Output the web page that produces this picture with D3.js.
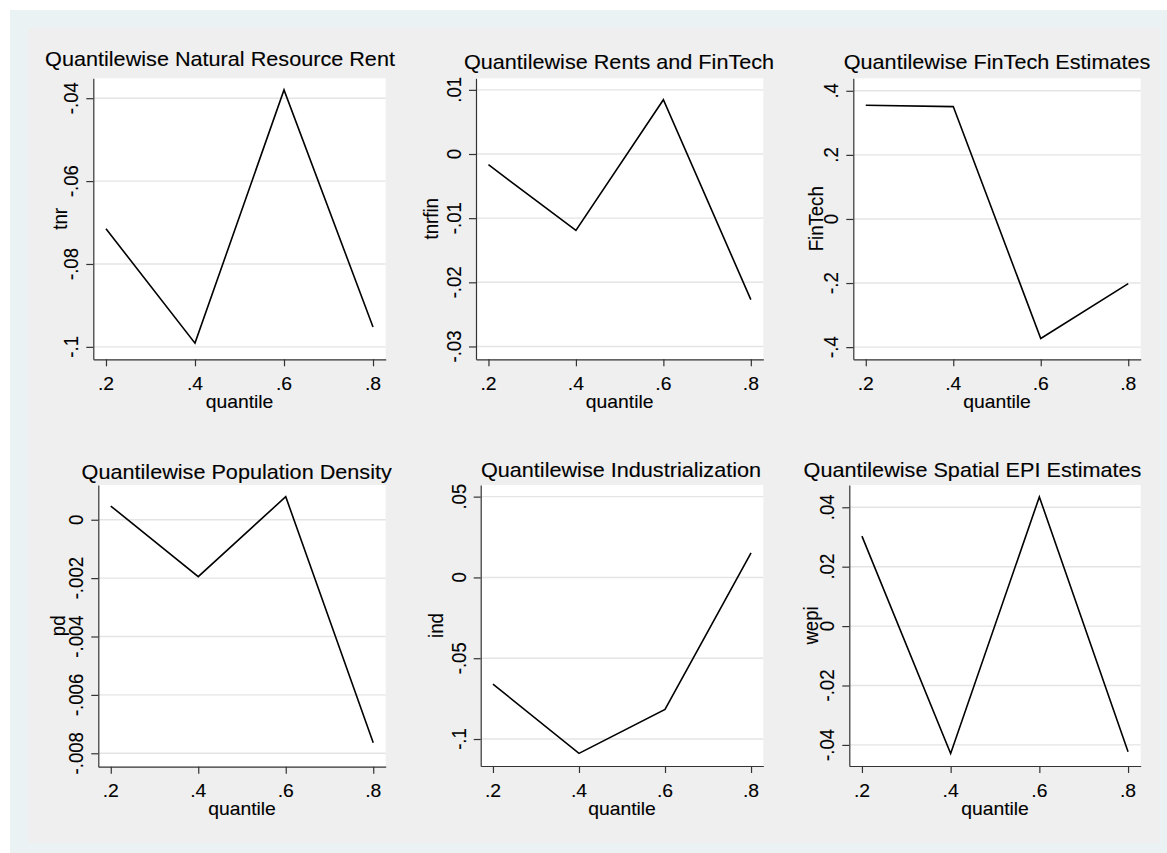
<!DOCTYPE html>
<html lang="en">
<head>
<meta charset="utf-8" />
<title>Quantilewise estimates</title>
<script src="https://d3js.org/d3.v7.min.js"></script>
<style>
  body { margin: 0; background: #fff; }
  svg { display: block; font-family: "Liberation Sans", Arial, sans-serif; }
  text { fill: #000; stroke: #000; stroke-width: 0.12px; }
</style>
</head>
<body>
<svg id="chart" width="1167" height="853"></svg>
<script>
// quantiles on the x axis
const quantiles = [0.2, 0.4, 0.6, 0.8];
const xTicks = [0.2, 0.4, 0.6, 0.8];
const xLimits = [0.1715, 0.8285];

// estimates
const tnr = [-0.0715, -0.0991, -0.0380, -0.0952];
const tnrfin = [-0.00167, -0.0119, 0.00846, -0.0227];
const fintech = [0.3548, 0.3507, -0.373, -0.2016];
const pd = [0.00047, -0.00195, 0.00079, -0.00764];
const ind = [-0.066, -0.1089, -0.0817, 0.0152];
const wepi = [0.0303, -0.0429, 0.0435, -0.0423];

const series = [tnr, tnrfin, fintech, pd, ind, wepi];
const titles = [
  "Quantilewise Natural Resource Rent",
  "Quantilewise Rents and FinTech",
  "Quantilewise FinTech Estimates",
  "Quantilewise Population Density",
  "Quantilewise Industrialization",
  "Quantilewise Spatial EPI Estimates"
];
const yNames = ["tnr", "tnrfin", "FinTech", "pd", "ind", "wepi"];
const xName = "quantile";

// y tick values and axis limits per panel
const yTicks = [
  [-0.1, -0.08, -0.06, -0.04],
  [-0.03, -0.02, -0.01, 0, 0.01],
  [-0.4, -0.2, 0, 0.2, 0.4],
  [-0.008, -0.006, -0.004, -0.002, 0],
  [-0.1, -0.05, 0, 0.05],
  [-0.04, -0.02, 0, 0.02, 0.04]
];
const yLimits = [
  [-0.103, -0.0352],
  [-0.032, 0.0118],
  [-0.438, 0.439],
  [-0.00846, 0.00119],
  [-0.1167, 0.0572],
  [-0.0471, 0.0475]
];

// layout: plot boxes [left, top, right, bottom], title centre, y title offset
const boxes = [
  [93.3, 78.3, 385.7, 359.3],
  [476, 78.3, 763.3, 359.3],
  [853.3, 78.3, 1140.7, 359.3],
  [98.3, 485, 385.7, 766.7],
  [480.7, 485, 763.3, 766],
  [849.3, 485, 1140.7, 766]
];
const titleX = [220, 619, 997, 236.7, 621, 972.5];
const titleY = [66, 68.5, 68.5, 479, 476.7, 476.7];
const yTitleOff = [26.6, 37.7, 30, 33, 37.4, 31];

const sx = 1.04; // text is a touch wider than it is tall in the original
const fmt = v => String(v).replace(/^(-?)0\./, "$1.");

const svg = d3.select("#chart");

// backgrounds
svg.append("rect").attr("x", 10).attr("y", 10).attr("width", 1157).attr("height", 843).attr("fill", "#eaf2f3");
svg.append("rect").attr("x", 28).attr("y", 28).attr("width", 1132).attr("height", 815).attr("fill", "#efefef");

series.forEach((vals, i) => {
  const [l, t, r, b] = boxes[i];
  const x = d3.scaleLinear().domain(xLimits).range([l, r]);
  const y = d3.scaleLinear().domain(yLimits[i]).range([b, t]);
  const g = svg.append("g");

  // plot area
  g.append("rect").attr("x", l).attr("y", t).attr("width", r - l).attr("height", b - t).attr("fill", "#fff");

  // grid lines
  g.selectAll(".grid")
    .data(yTicks[i])
    .enter()
    .append("line")
    .attr("x1", l).attr("x2", r)
    .attr("y1", d => y(d)).attr("y2", d => y(d))
    .attr("stroke", "#e4e4e4")
    .attr("stroke-width", 1.4);

  // axes, labels drawn separately
  const ya = g.append("g").attr("transform", `translate(${l},0)`)
    .call(d3.axisLeft(y).tickValues(yTicks[i]).tickSize(7).tickSizeOuter(0).tickFormat(""));
  const xa = g.append("g").attr("transform", `translate(0,${b})`)
    .call(d3.axisBottom(x).tickValues(xTicks).tickSize(7).tickSizeOuter(0).tickFormat(""));
  [ya, xa].forEach(a => {
    a.selectAll("path, line").attr("stroke", "#333").attr("stroke-width", 1.2);
  });

  // y tick labels, rotated
  g.selectAll(".ylab")
    .data(yTicks[i])
    .enter()
    .append("text")
    .attr("transform", d => `translate(${l - 15},${y(d)}) scale(${sx},1) rotate(-90)`)
    .attr("text-anchor", "middle")
    .attr("font-size", 18.6)
    .text(fmt);

  // x tick labels
  g.selectAll(".xlab")
    .data(xTicks)
    .enter()
    .append("text")
    .attr("transform", d => `translate(${x(d)},${b + 30.5}) scale(${sx},1)`)
    .attr("text-anchor", "middle")
    .attr("font-size", 18.6)
    .text(fmt);

  // axis titles
  g.append("text")
    .attr("transform", `translate(${(l + r) / 2},${b + 48.5}) scale(${sx},1)`)
    .attr("text-anchor", "middle")
    .attr("font-size", 18.6)
    .text(xName);
  g.append("text")
    .attr("transform", `translate(${l - yTitleOff[i]},${(t + b) / 2}) scale(${sx},1) rotate(-90)`)
    .attr("text-anchor", "middle")
    .attr("font-size", 18.6)
    .text(yNames[i]);

  // panel title
  g.append("text")
    .attr("transform", `translate(${titleX[i]},${titleY[i]}) scale(${sx},1)`)
    .attr("text-anchor", "middle")
    .attr("font-size", 20.8)
    .text(titles[i]);

  // the estimate line
  const line = d3.line().x((d, k) => x(quantiles[k])).y(d => y(d));
  g.append("path")
    .datum(vals)
    .attr("d", line)
    .attr("fill", "none")
    .attr("stroke", "#000")
    .attr("stroke-width", 1.6);
});
</script>
</body>
</html>
